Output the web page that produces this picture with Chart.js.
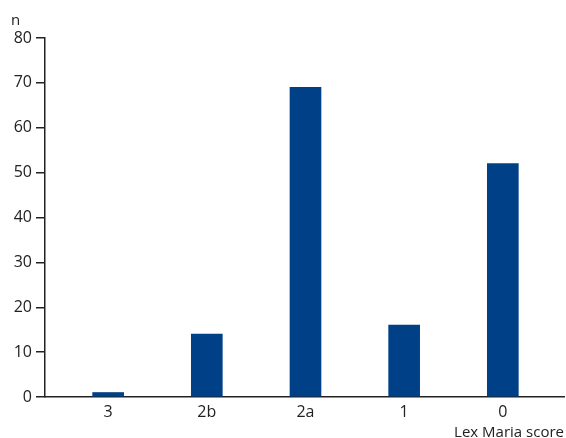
<!DOCTYPE html>
<html>
<head>
<meta charset="utf-8">
<script src="https://cdn.jsdelivr.net/npm/chart.js@4"></script>
<style>
  html, body { margin: 0; padding: 0; background: #fff; }
  #wrap { width: 566px; height: 438px; }
</style>
</head>
<body>
<div id="wrap"><canvas id="myChart"></canvas></div>
<script>
const categories = ["3", "2b", "2a", "1", "0"];
const counts = [1, 14, 69, 16, 52];
const yTicks = [0, 10, 20, 30, 40, 50, 60, 70, 80];

const FONT = "'Open Sans', 'Noto Sans', sans-serif";

// small "n" label above the y axis
const yLabel = {
    id: "yLabel",
    afterDraw(chart) {
        const ctx = chart.ctx;
        const yScale = chart.scales.y;
        ctx.save();
        ctx.font = "15px " + FONT;
        ctx.fillStyle = "#222";
        ctx.textAlign = "left";
        ctx.textBaseline = "bottom";
        ctx.fillText("n", 11, yScale.top - 10);
        ctx.restore();
    },
};

const myChart = new Chart(document.getElementById("myChart"), {
    type: "bar",
    data: {
        datasets: [
            {
                label: "n",
                data: counts.map((v, i) => ({ x: i, y: v })),
                backgroundColor: "#004086",
                barThickness: 31,
            },
        ],
    },
    options: {
        responsive: true,
        maintainAspectRatio: false,
        animation: false,
        layout: {
            padding: { top: 38, right: 2, left: 0, bottom: 0 },
        },
        plugins: {
            legend: { display: false },
            tooltip: { enabled: false },
        },
        scales: {
            x: {
                type: "linear",
                offset: false,
                min: -0.64,
                max: 4.62,
                grid: { display: false },
                border: { display: true, color: "#222", width: 1.5 },
                afterBuildTicks: (axis) => {
                    axis.ticks = categories.map((c, i) => ({ value: i }));
                },
                afterFit: (axis) => {
                    axis.height = 41;
                },
                ticks: {
                    color: "#222",
                    font: { family: FONT, size: 16 },
                    padding: -2,
                    maxRotation: 0,
                    callback: (v) => categories[v],
                },
                title: {
                    display: true,
                    text: "Lex Maria score",
                    align: "end",
                    color: "#222",
                    font: { family: FONT, size: 15, lineHeight: 1.0 },
                    padding: { top: 0, bottom: -2 },
                },
            },
            y: {
                min: 0,
                max: 80,
                afterBuildTicks: (axis) => {
                    axis.ticks = yTicks.map((v) => ({ value: v }));
                },
                afterFit: (axis) => {
                    axis.width = 45;
                },
                grid: {
                    drawOnChartArea: false,
                    drawTicks: true,
                    tickLength: 9,
                    color: "#222",
                    lineWidth: 1.5,
                },
                border: { display: true, color: "#222", width: 1.5 },
                ticks: {
                    color: "#222",
                    font: { family: FONT, size: 16 },
                    padding: 4,
                },
            },
        },
    },
    plugins: [yLabel],
});
</script>
</body>
</html>
